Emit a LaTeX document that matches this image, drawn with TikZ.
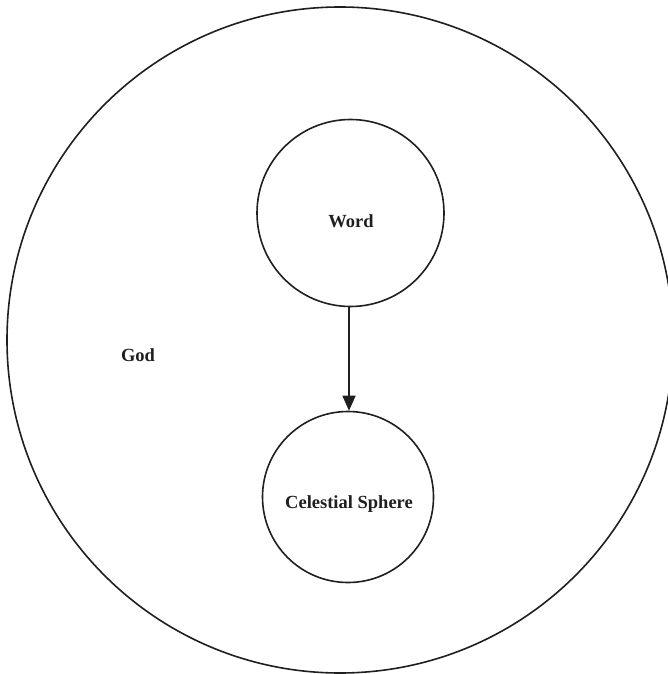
\documentclass[tikz,border=0pt]{standalone}
\usepackage{fontspec}
\setmainfont{Liberation Serif}
\usetikzlibrary{arrows.meta}
\begin{document}
\begin{tikzpicture}[x=1pt,y=-1pt,
  ring/.style={draw=black!88,line width=1.6pt,circle,inner sep=0pt},
  lbl/.style={font=\fontsize{18.5}{20}\selectfont\bfseries,text=black!88},
  conn/.style={draw=black!88,line width=1.6pt,-{Triangle[length=15pt,width=13pt]}}]
\useasboundingbox (0,0) rectangle (668,674);
\node[ring,minimum size=666pt] (god) at (340,340) {};
\node[ring,minimum size=187pt] (word) at (350.5,213) {};
\node[ring,minimum size=171pt] (cel) at (348,497) {};
\node[lbl] (godl) at (138,355) {God};
\node[lbl] (wordl) at (351,221) {Word};
\node[lbl] (cell) at (349,504) {Celestial Sphere};
\draw[conn] (word.south -| 349,0) -- (cel.north -| 349,0);
\end{tikzpicture}
\end{document}
